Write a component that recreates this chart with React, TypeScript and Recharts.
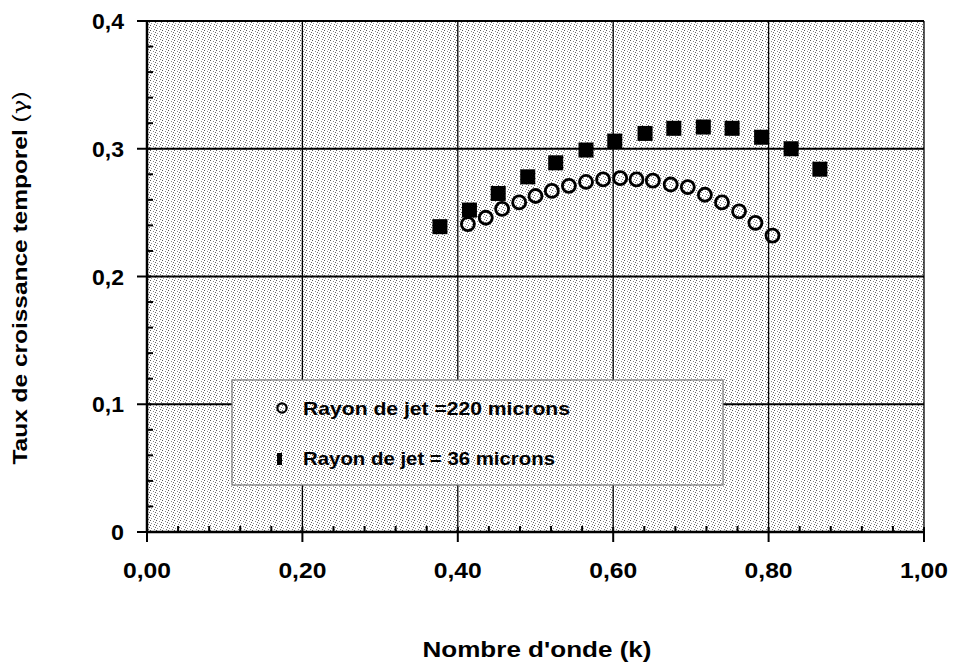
import { CartesianGrid, Scatter, ScatterChart, XAxis, YAxis } from "recharts";

// wave number (k) and temporal growth rate (gamma)
const K_220 = [0.413, 0.436, 0.457, 0.479, 0.5, 0.521, 0.543, 0.565, 0.587, 0.609, 0.63, 0.651, 0.674, 0.696, 0.718, 0.74, 0.762, 0.783, 0.805];
const G_220 = [0.241, 0.246, 0.253, 0.258, 0.263, 0.267, 0.271, 0.274, 0.276, 0.277, 0.276, 0.275, 0.272, 0.27, 0.264, 0.258, 0.251, 0.242, 0.232];
const K_36 = [0.377, 0.415, 0.452, 0.49, 0.526, 0.565, 0.602, 0.641, 0.678, 0.716, 0.753, 0.791, 0.829, 0.866];
const G_36 = [0.239, 0.252, 0.265, 0.278, 0.289, 0.299, 0.306, 0.312, 0.316, 0.317, 0.316, 0.309, 0.3, 0.284];

const X_TICKS = [0, 0.04, 0.08, 0.12, 0.16, 0.2, 0.24, 0.28, 0.32, 0.36, 0.4, 0.44, 0.48, 0.52, 0.56, 0.6, 0.64, 0.68, 0.72, 0.76, 0.8, 0.84, 0.88, 0.92, 0.96, 1];
const Y_TICKS = [0, 0.02, 0.04, 0.06, 0.08, 0.1, 0.12, 0.14, 0.16, 0.18, 0.2, 0.22, 0.24, 0.26, 0.28, 0.3, 0.32, 0.34, 0.36, 0.38, 0.4];
const X_GRID = [0.2, 0.4, 0.6, 0.8, 1];
const Y_GRID = [0.1, 0.2, 0.3, 0.4];

const LEGEND_220 = "Rayon de jet =220 microns";
const LEGEND_36 = "Rayon de jet = 36 microns";
const X_TITLE = "Nombre d'onde (k)";
const Y_TITLE = "Taux de croissance temporel ";

const data220 = K_220.map((k, i) => ({ k, g: G_220[i] }));
const data36 = K_36.map((k, i) => ({ k, g: G_36[i] }));

const FONT = "'Liberation Sans', Arial, sans-serif";

const isStep = (v: number, step: number) =>
  Math.abs(v / step - Math.round(v / step)) < 1e-6;

function XTick({ x, y, payload }: any) {
  const v = payload.value as number;
  const major = isStep(v, 0.2);
  return (
    <g>
      {major ? (
        <line x1={x} x2={x} y1={y - 5} y2={y + 10} stroke="#000" strokeWidth={2} />
      ) : (
        <line x1={x} x2={x} y1={y} y2={y - 6} stroke="#000" strokeWidth={2} />
      )}
      {major && (
        <text
          x={x}
          y={y + 46}
          textAnchor="middle"
          fontFamily={FONT}
          fontWeight="bold"
          fontSize={22}
          textLength={48}
          lengthAdjust="spacingAndGlyphs"
          fill="#000"
        >
          {v.toFixed(2).replace(".", ",")}
        </text>
      )}
    </g>
  );
}

function YTick({ x, y, payload }: any) {
  const v = payload.value as number;
  const major = isStep(v, 0.1);
  const label = v === 0 ? "0" : v.toFixed(1).replace(".", ",");
  return (
    <g>
      {major ? (
        <line x1={x - 10} x2={x + 4} y1={y} y2={y} stroke="#000" strokeWidth={2} />
      ) : (
        <line x1={x} x2={x + 6} y1={y} y2={y} stroke="#000" strokeWidth={2} />
      )}
      {major && (
        <text
          x={x - 23}
          y={y + 8}
          textAnchor="end"
          fontFamily={FONT}
          fontWeight="bold"
          fontSize={22}
          textLength={v === 0 ? 13 : 32}
          lengthAdjust="spacingAndGlyphs"
          fill="#000"
        >
          {label}
        </text>
      )}
    </g>
  );
}

const openCircle = (p: any) => (
  <circle cx={p.cx} cy={p.cy} r={6.5} fill="none" stroke="#000" strokeWidth={2.8} />
);

const filledSquare = (p: any) => (
  <rect x={p.cx - 7.5} y={p.cy - 7.5} width={15} height={15} fill="#000" />
);

export default function App() {
  return (
    <div style={{ position: "absolute", left: 0, top: 0, width: 955, height: 663, background: "#fff" }}>
      <ScatterChart
        width={955}
        height={663}
        margin={{ top: 21, right: 31, left: 87, bottom: 101 }}
      >
        <CartesianGrid
          fill="url(#stipple)"
          stroke="#000"
          horizontalValues={Y_GRID}
          verticalValues={X_GRID}
          horizontal={(p: any) => (
            <line key={p.key} x1={p.x1} y1={p.y1} x2={p.x2} y2={p.y2} stroke="#000" strokeWidth={2} />
          )}
          vertical={(p: any) => (
            <line key={p.key} x1={p.x1} y1={p.y1} x2={p.x2} y2={p.y2} stroke="#000" strokeWidth={1.3} />
          )}
        />
        <XAxis
          type="number"
          dataKey="k"
          domain={[0, 1]}
          ticks={X_TICKS}
          interval={0}
          tickSize={0}
          tickMargin={0}
          tickLine={false}
          axisLine={{ stroke: "#000", strokeWidth: 2.5 }}
          tick={<XTick />}
          height={30}
        />
        <YAxis
          type="number"
          dataKey="g"
          domain={[0, 0.4]}
          ticks={Y_TICKS}
          interval={0}
          tickSize={0}
          tickMargin={0}
          tickLine={false}
          axisLine={{ stroke: "#000", strokeWidth: 2.5 }}
          tick={<YTick />}
          width={60}
        />
        <Scatter data={data220} shape={openCircle} isAnimationActive={false} />
        <Scatter data={data36} shape={filledSquare} isAnimationActive={false} />
      </ScatterChart>

      {/* overlay: stipple pattern, legend box and axis titles */}
      <svg
        width={955}
        height={663}
        style={{ position: "absolute", left: 0, top: 0, pointerEvents: "none" }}
      >
        <defs>
          <pattern id="stipple" width={6} height={5} patternUnits="userSpaceOnUse">
            <rect width={6} height={5} fill="#fff" />
            <rect x={0} y={0} width={1} height={1} fill="#555" />
            <rect x={3} y={1} width={1} height={1} fill="#888" />
            <rect x={5} y={2} width={1} height={1} fill="#666" />
            <rect x={1} y={3} width={1} height={1} fill="#999" />
            <rect x={4} y={4} width={1} height={1} fill="#777" />
          </pattern>
        </defs>

        <rect x={232} y={380} width={491} height={105} fill="url(#stipple)" stroke="#777" strokeWidth={1.2} />
        <circle cx={282} cy={408} r={4.6} fill="none" stroke="#000" strokeWidth={2.2} />
        <text x={303} y={415} fontFamily={FONT} fontWeight="bold" fontSize={19} textLength={267} lengthAdjust="spacingAndGlyphs">
          {LEGEND_220}
        </text>
        <rect x={277} y={453} width={5} height={12} fill="#000" />
        <text x={303} y={465} fontFamily={FONT} fontWeight="bold" fontSize={19} textLength={252} lengthAdjust="spacingAndGlyphs">
          {LEGEND_36}
        </text>

        <text
          x={537}
          y={657}
          textAnchor="middle"
          fontFamily={FONT}
          fontWeight="bold"
          fontSize={22}
          textLength={229}
          lengthAdjust="spacingAndGlyphs"
        >
          {X_TITLE}
        </text>
        <text
          transform="translate(27,278) rotate(-90)"
          textAnchor="middle"
          fontFamily={FONT}
          fontWeight="bold"
          fontSize={20}
          textLength={373}
          lengthAdjust="spacingAndGlyphs"
        >
          {Y_TITLE}
          <tspan fontWeight="normal">(</tspan>
          <tspan fontWeight="normal" fontFamily="'DejaVu Serif', serif">γ</tspan>
          <tspan fontWeight="normal">)</tspan>
        </text>
      </svg>
    </div>
  );
}
